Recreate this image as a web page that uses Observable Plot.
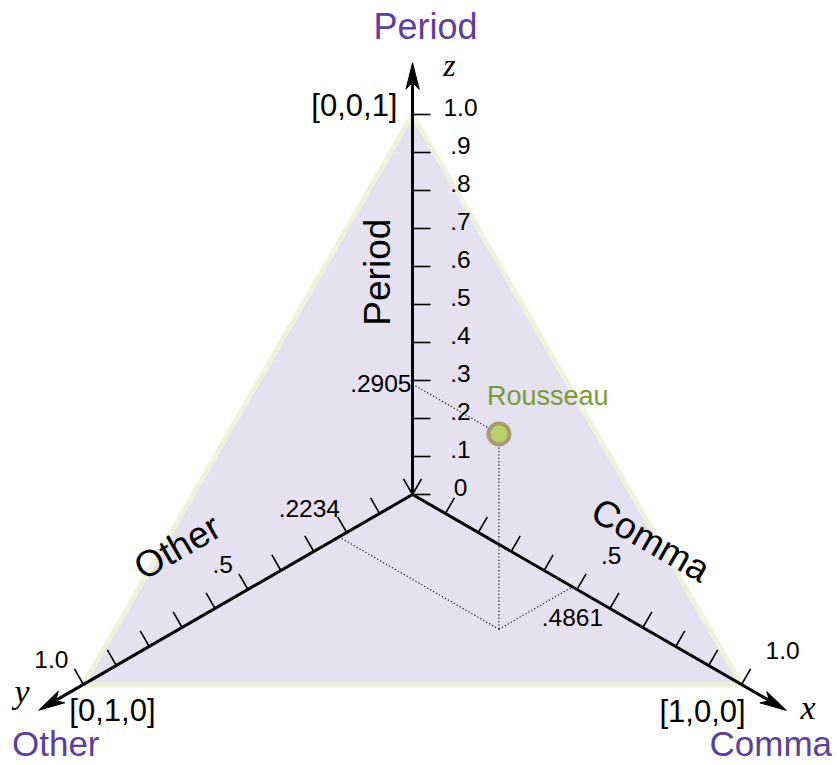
<!DOCTYPE html>
<html><head><meta charset="utf-8">
<script src="https://cdn.jsdelivr.net/npm/d3@7"></script>
<script src="https://cdn.jsdelivr.net/npm/@observablehq/plot@0.6"></script>
<style>body{margin:0;background:#fff} svg{display:block}</style>
</head><body><div id="chart"></div>
<script>
// ---------- data ----------
const axisLetters = ["x", "y", "z"];
const axisNames = ["Comma", "Other", "Period"];
const vertexLabels = ["[1,0,0]", "[0,1,0]", "[0,0,1]"];
const tickValues = [0, 0.1, 0.2, 0.3, 0.4, 0.5, 0.6, 0.7, 0.8, 0.9, 1.0];
const zTickLabels = ["0", ".1", ".2", ".3", ".4", ".5", ".6", ".7", ".8", ".9", "1.0"];
const xyLabelValues = [0.5, 1.0];
const xyLabelTexts = [".5", "1.0"];
const pointName = "Rousseau";
const pointValues = [0.4861, 0.2234, 0.2905]; // Comma (x), Other (y), Period (z)
const pointValueLabels = [".4861", ".2234", ".2905"];

// ---------- geometry (units: 1 = axis length) ----------
const PX = 1 / 380;
const c30 = Math.cos(Math.PI / 6), s30 = 0.5;
const dirs = [[c30, -s30], [-c30, -s30], [0, 1]];     // axis directions
const norms = [[s30, c30], [-s30, c30], [1, 0]];      // tick directions
const at = (a, t) => ({u: dirs[a][0] * t, v: dirs[a][1] * t});
const TIP = 1.135;
const TICK = 18 * PX;

const triangle = [0, 1, 2].map(a => at(a, 1));

const ticks = [];
for (let a = 0; a < 3; a++) for (const t of tickValues) {
  const p = at(a, t);
  ticks.push({u1: p.u, v1: p.v, u2: p.u + norms[a][0] * TICK, v2: p.v + norms[a][1] * TICK});
}
const axes = [0, 1, 2].map(a => {
  const e = at(a, TIP - 20 * PX);
  return {u1: 0, v1: 0, u2: e.u, v2: e.v};
});
const heads = [];
[0, 1, 2].forEach(a => {
  const [dx, dy] = dirs[a], [nx, ny] = [-dy, dx];
  const tip = at(a, TIP), L = 26 * PX, W = 6.5 * PX, N = 19 * PX;
  heads.push({a, u: tip.u, v: tip.v});
  heads.push({a, u: tip.u - dx * L + nx * W, v: tip.v - dy * L + ny * W});
  heads.push({a, u: tip.u - dx * N, v: tip.v - dy * N});
  heads.push({a, u: tip.u - dx * L - nx * W, v: tip.v - dy * L - ny * W});
});

// point position
const [px_, py_, pz_] = pointValues;
const floorPt = {u: px_ * dirs[0][0] + py_ * dirs[1][0], v: px_ * dirs[0][1] + py_ * dirs[1][1]};
const P = {u: (px_ - py_) * dirs[0][0], v: (px_ - py_) * dirs[0][1] + pz_};
const Xp = at(0, px_), Yp = at(1, py_), Zp = at(2, pz_);
const dotted = [
  {u1: P.u, v1: P.v, u2: Zp.u, v2: Zp.v},
  {u1: P.u, v1: P.v, u2: floorPt.u, v2: floorPt.v},
  {u1: floorPt.u, v1: floorPt.v, u2: Yp.u, v2: Yp.v},
  {u1: floorPt.u, v1: floorPt.v, u2: Xp.u, v2: Xp.v}
];

const zLabels = tickValues.map((t, i) => ({...at(2, t), text: zTickLabels[i]}));
const xLabels = xyLabelValues.map((t, i) => ({...at(0, t), text: xyLabelTexts[i]}));
const yLabels = xyLabelValues.map((t, i) => ({...at(1, t), text: xyLabelTexts[i]}));

const nameAt = (a, t, off) => {
  const p = at(a, t);
  return {u: p.u + norms[a][0] * off, v: p.v + norms[a][1] * off};
};

const FONT = "'Liberation Sans', Arial, Helvetica, sans-serif";
const SERIF = "'Liberation Serif', 'Times New Roman', serif";
const PURPLE = "#5b3f99";

const W = 837, H = 765, OX = 412, OY = 494;

const txt = (data, opts) => Plot.text(data, {x: "u", y: "v", fontFamily: FONT, fill: "black", ...opts});

const chart = Plot.plot({
  width: W, height: H, margin: 0,
  style: {background: "white", fontFamily: FONT},
  x: {domain: [-OX * PX, (W - OX) * PX], range: [0, W], axis: null},
  y: {domain: [-(H - OY) * PX, OY * PX], range: [H, 0], axis: null},
  marks: [
    Plot.line(triangle, {x: "u", y: "v", curve: "linear-closed", fill: "#e5e1f0", stroke: "#edf2dc", strokeWidth: 5}),
    Plot.link(dotted, {x1: "u1", y1: "v1", x2: "u2", y2: "v2", stroke: "#111", strokeWidth: 1.2, strokeDasharray: "1.2,2.2"}),
    Plot.link(ticks, {x1: "u1", y1: "v1", x2: "u2", y2: "v2", stroke: "black", strokeWidth: 1.6}),
    Plot.link(axes, {x1: "u1", y1: "v1", x2: "u2", y2: "v2", stroke: "black", strokeWidth: 3}),
    Plot.line(heads, {x: "u", y: "v", z: "a", curve: "linear-closed", fill: "black", stroke: "black", strokeWidth: 1}),
    Plot.dot([P], {x: "u", y: "v", r: 10.5, fill: "#b6d06c", stroke: "#a99b6d", strokeWidth: 4}),
    // z tick labels
    txt(zLabels, {text: "text", fontSize: 24.5, textAnchor: "middle", lineAnchor: "bottom", dx: 48, dy: 1}),
    // x and y tick labels
    txt(xLabels, {text: "text", fontSize: 24.5, textAnchor: "start", lineAnchor: "bottom", dx: 24, dy: -26}),
    txt(yLabels, {text: "text", fontSize: 24.5, textAnchor: "end", lineAnchor: "bottom", dx: -15, dy: -17}),
    // point value labels
    txt([{...Xp, text: pointValueLabels[0]}], {text: "text", fontSize: 24.5, textAnchor: "middle", lineAnchor: "bottom", dy: 39}),
    txt([{...Yp, text: pointValueLabels[1]}], {text: "text", fontSize: 24.5, textAnchor: "end", lineAnchor: "bottom", dx: 1, dy: -20}),
    txt([{...Zp, text: pointValueLabels[2]}], {text: "text", fontSize: 24.5, textAnchor: "end", lineAnchor: "middle", dx: -1}),
    // point label
    txt([{...P, text: pointName}], {text: "text", fontSize: 27, textAnchor: "start", lineAnchor: "bottom", dx: -12, dy: -29, fill: "#7d9a38"}),
    // axis names along the axes
    txt([{...nameAt(0, 0.603, 0.208), text: axisNames[0]}], {text: "text", fontSize: 37, rotate: 30, textAnchor: "middle", lineAnchor: "middle"}),
    txt([{...nameAt(1, 0.605, 0.188), text: axisNames[1]}], {text: "text", fontSize: 37, rotate: -30, textAnchor: "middle", lineAnchor: "middle"}),
    txt([{...nameAt(2, 0.585, -0.091), text: axisNames[2]}], {text: "text", fontSize: 37, rotate: -90, textAnchor: "middle", lineAnchor: "middle"}),
    // vertex labels
    txt([{...at(0, 1), text: vertexLabels[0]}], {text: "text", fontSize: 31, textAnchor: "middle", lineAnchor: "middle", dx: -39, dy: 28}),
    txt([{...at(1, 1), text: vertexLabels[1]}], {text: "text", fontSize: 31, textAnchor: "middle", lineAnchor: "middle", dx: 29, dy: 27}),
    txt([{...at(2, 1), text: vertexLabels[2]}], {text: "text", fontSize: 31, textAnchor: "end", lineAnchor: "middle", dx: -15, dy: -8}),
    // corner names (purple)
    txt([{...at(0, TIP), text: axisNames[0]}], {text: "text", fontSize: 35, textAnchor: "end", lineAnchor: "bottom", dx: 46, dy: 46, fill: PURPLE}),
    txt([{...at(1, TIP), text: axisNames[1]}], {text: "text", fontSize: 35, textAnchor: "start", lineAnchor: "bottom", dx: -27, dy: 46, fill: PURPLE}),
    txt([{...at(2, TIP), text: axisNames[2]}], {text: "text", fontSize: 36, textAnchor: "middle", lineAnchor: "bottom", dx: 13, dy: -24, fill: PURPLE}),
    // axis letters
    txt([{...at(0, TIP), text: axisLetters[0]}], {text: "text", fontSize: 34, fontFamily: SERIF, fontStyle: "italic", textAnchor: "middle", lineAnchor: "middle", dx: 22, dy: -2}),
    txt([{...at(1, TIP), text: axisLetters[1]}], {text: "text", fontSize: 34, fontFamily: SERIF, fontStyle: "italic", textAnchor: "middle", lineAnchor: "middle", dx: -17, dy: -18}),
    txt([{...at(2, TIP), text: axisLetters[2]}], {text: "text", fontSize: 32, fontFamily: SERIF, fontStyle: "italic", textAnchor: "middle", lineAnchor: "middle", dx: 37, dy: 3})
  ]
});
document.getElementById("chart").append(chart);
</script>
</body></html>
